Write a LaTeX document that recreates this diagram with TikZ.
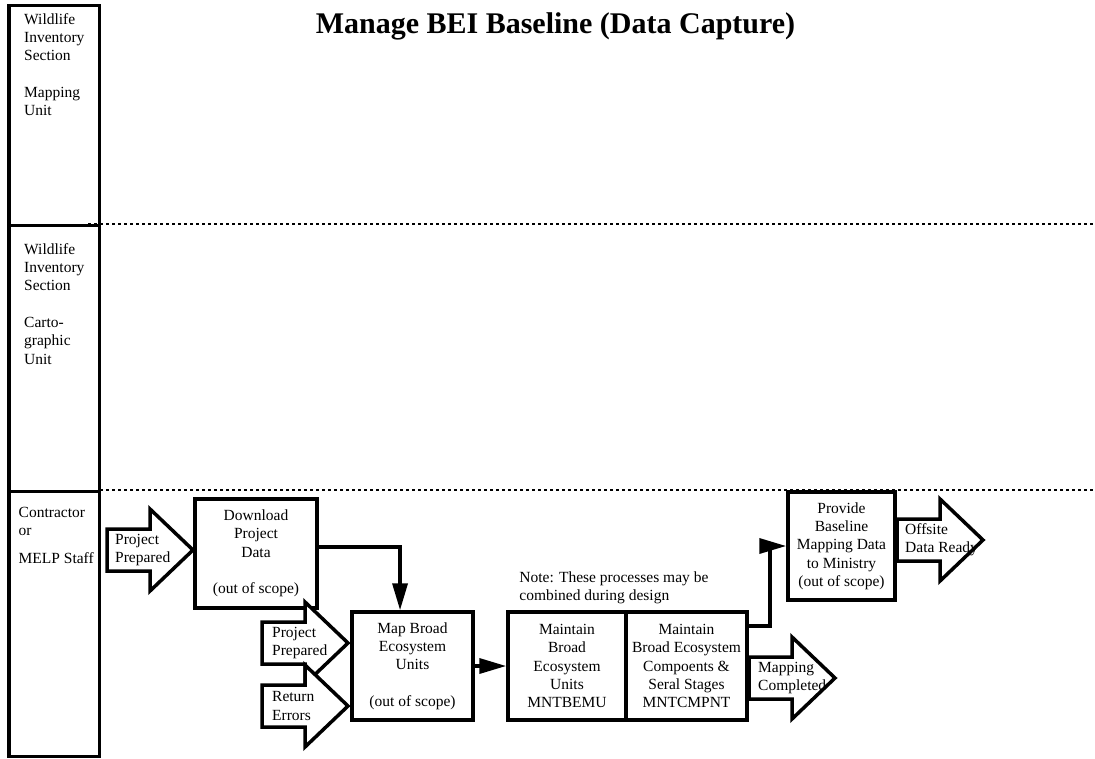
\documentclass[tikz,border=0pt]{standalone}
\usepackage{fontspec}
\setmainfont{Liberation Serif}
\usetikzlibrary{calc}
\usetikzlibrary{arrows.meta, positioning}

\begin{document}
\begin{tikzpicture}[
            x=1pt, y=-1pt,
            every node/.style={font=\fontsize{15.5}{18.3}\selectfont},
            lane/.style={rectangle, draw, line width=3.5pt, minimum width=90.5pt, inner sep=0pt, outer sep=0pt, anchor=north west},
            lanetext/.style={anchor=north west, align=left, inner sep=0pt},
            procbox/.style={rectangle, draw, line width=3.5pt, minimum height=108pt, align=center, inner sep=0pt},
            flowtext/.style={anchor=west, align=left, inner sep=0pt},
            divider/.style={line width=1.6pt, dash pattern=on 3pt off 3pt},
            link/.style={line width=3.5pt, -{Triangle[length=27pt, width=15pt]}},
            blockarrow/.pic={
                \draw[line width=3.5pt, fill=white, line join=miter]
                    (0,-21) -- (43,-21) -- (43,-41) -- (86,0) -- (43,41) -- (43,21) -- (0,21) -- cycle;
            }
        ]

        \useasboundingbox (0,0) rectangle (1095,758);

        % Title
        \node[font=\fontsize{30}{36}\selectfont\bfseries, anchor=base] (title) at (555.5,33) {Manage BEI Baseline (Data Capture)};

        % Swim lanes
        \node[lane, minimum height=220pt] (mapunit) at (8.75,5.25) {};
        \node[lane, minimum height=266pt] (cartounit) at (8.75,225.25) {};
        \node[lane, minimum height=265pt] (contractor) at (8.75,491.25) {};
        \node[lanetext] (mapunitlbl) at (24,13) {Wildlife\\Inventory\\Section\\[18.5pt]Mapping\\Unit};
        \node[lanetext] (cartounitlbl) at (24,243) {Wildlife\\Inventory\\Section\\[18.5pt]Carto-\\graphic\\Unit};
        \node[lanetext] (contractorlbl) at (18.5,507) {Contractor\\or\\[9.5pt]MELP Staff};

        % Lane dividers
        \draw[divider] (88,224) -- (1095,224);
        \draw[divider] (100,490) -- (1095,490);

        % Processes
        \node[procbox, minimum width=122pt, minimum height=109pt] (download) at (256,553.5) {Download\\Project\\Data\\[18.5pt](out of scope)};
        \node[procbox, minimum width=121pt] (mapbeu) at (412.5,666) {Map Broad\\Ecosystem\\Units\\[18pt](out of scope)};
        \node[procbox, minimum width=118pt] (mntbemu) at (567,666) {Maintain\\Broad\\Ecosystem\\Units\\MNTBEMU};
        \node[procbox, minimum width=121pt] (mntcmpnt) at (686.5,666) {Maintain\\Broad Ecosystem\\Compoents \&\\Seral Stages\\MNTCMPNT};
        \node[procbox, minimum width=107pt] (provide) at (841.5,546) {Provide\\Baseline\\Mapping Data\\to Ministry\\(out of scope)};
        \node[above right=6pt and 13pt of mntbemu.north west, anchor=south west, align=left, inner sep=0pt] (note) {Note: These processes may be\\combined during design};

        % Events
        \pic at (107,550) {blockarrow};
        \node[flowtext] (prepared) at (115,550) {Project\\Prepared};
        \pic at (262,643) {blockarrow};
        \node[flowtext] (prepared2) at (272,643) {Project\\Prepared};
        \pic at (262,706) {blockarrow};
        \node[flowtext] (errors) at (272,706) {Return\\Errors};
        \pic at (749,678) {blockarrow};
        \node[flowtext] (completed) at (758,678) {Mapping\\Completed};
        \pic at (897,540) {blockarrow};
        \node[flowtext] (offsite) at (905,540) {Offsite\\Data Ready};

        % Flow between processes
        \draw[link] ($(download.north east)!0.44!(download.south east)$) -| ($(mapbeu.north west)!0.4!(mapbeu.north east)$);
        \draw[link] (mapbeu) -- (mntbemu);
        \draw[link] ($(mntcmpnt.north east)!0.14!(mntcmpnt.south east)$) -- ++(21,0) |- (provide);

    \end{tikzpicture}
\end{document}
